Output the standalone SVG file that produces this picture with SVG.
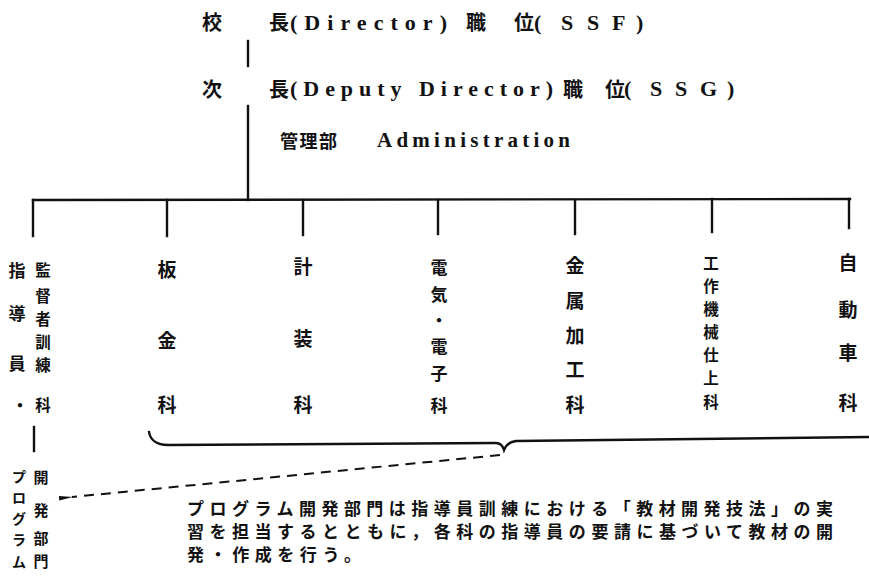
<svg xmlns="http://www.w3.org/2000/svg" width="869" height="577" viewBox="0 0 869 577">
<defs>
<style>
.cj{font-family:"Noto Sans CJK JP","Noto Sans CJK SC",sans-serif;font-weight:bold;fill:#111}
.lt{font-family:"Liberation Serif","DejaVu Serif",serif;font-weight:bold;fill:#111}
.col{font-size:19px;text-anchor:middle}
.sm{font-size:17px}
.xs{font-size:15.5px}
.ln{stroke:#111;stroke-width:2.4;fill:none;stroke-linecap:square}
.dash{stroke:#111;stroke-width:2;fill:none;stroke-dasharray:10 7}
</style>
<marker id="arr" viewBox="0 0 14 6" refX="1" refY="3" markerWidth="14" markerHeight="6" markerUnits="userSpaceOnUse" orient="auto">
<path d="M0,3 L14,0.8 L14,5.2 z" fill="#111"/>
</marker>
</defs>
<rect width="869" height="577" fill="#fff"/>

<g id="director">
<text class="cj" x="202" y="30" font-size="20">校</text>
<text class="cj" x="269" y="30" font-size="20">長</text>
<text class="lt" x="290" y="30" font-size="22" textLength="157" lengthAdjust="spacing">(Director)</text>
<text class="cj" x="466" y="30" font-size="20">職</text>
<text class="cj" x="514" y="30" font-size="20">位</text>
<text class="lt" font-size="22" y="30" x="534 561 587 612 636">(SSF)</text>
</g>

<g id="deputy">
<text class="cj" x="202" y="97" font-size="20">次</text>
<text class="cj" x="269" y="97" font-size="20">長</text>
<text class="lt" x="290" y="96" font-size="22" textLength="263" lengthAdjust="spacing">(Deputy Director)</text>
<text class="cj" x="563" y="97" font-size="20">職</text>
<text class="cj" x="605" y="97" font-size="20">位</text>
<text class="lt" font-size="22" y="96" x="624 650 675 700 727">(SSG)</text>
</g>

<g id="admin">
<text class="cj" x="280" y="148" font-size="18" textLength="57" lengthAdjust="spacing">管理部</text>
<text class="lt" x="377" y="147" font-size="21" textLength="193" lengthAdjust="spacing">Administration</text>
</g>

<g id="connectors">
<line class="ln" x1="248" y1="41" x2="248" y2="66"/>
<line class="ln" x1="248" y1="106" x2="248" y2="200"/>
<line class="ln" x1="33" y1="200" x2="850" y2="199"/>
<line class="ln" x1="33" y1="200" x2="33" y2="236"/>
<line class="ln" x1="167" y1="200" x2="167" y2="236"/>
<line class="ln" x1="303" y1="200" x2="303" y2="235"/>
<line class="ln" x1="438" y1="200" x2="438" y2="234"/>
<line class="ln" x1="575" y1="200" x2="575" y2="234"/>
<line class="ln" x1="712" y1="199" x2="712" y2="232"/>
<line class="ln" x1="849" y1="199" x2="849" y2="228"/>
<line class="ln" x1="34" y1="427" x2="34" y2="451"/>
<path class="ln" d="M149,432 Q151,445 168,445 L496,443 Q502,443 504,450 Q507,442 516,441 L869,437"/>
<path class="dash" d="M500,455 L72,497" marker-end="url(#arr)"/>
</g>

<g id="supervisor">
<text class="cj col sm"><tspan x="17" y="277">指</tspan><tspan x="17" y="320">導</tspan><tspan x="17" y="370">員</tspan><tspan x="20" y="412">・</tspan></text>
<text class="cj col xs"><tspan x="43" y="276">監</tspan><tspan x="43" y="302">督</tspan><tspan x="43" y="325">者</tspan><tspan x="43" y="348">訓</tspan><tspan x="43" y="371">練</tspan><tspan x="43" y="411">科</tspan></text>
</g>

<g id="sheetmetal">
<text class="cj col"><tspan x="167" y="277">板</tspan><tspan x="167" y="348">金</tspan><tspan x="167" y="412">科</tspan></text>
</g>

<g id="instrument">
<text class="cj col"><tspan x="303" y="274">計</tspan><tspan x="303" y="346">装</tspan><tspan x="303" y="412">科</tspan></text>
</g>

<g id="electric">
<text class="cj col sm"><tspan x="439" y="274">電</tspan><tspan x="439" y="301">気</tspan><tspan x="439" y="327">・</tspan><tspan x="439" y="353">電</tspan><tspan x="439" y="380">子</tspan><tspan x="439" y="412">科</tspan></text>
</g>

<g id="metal">
<text class="cj col"><tspan x="575" y="273">金</tspan><tspan x="575" y="308">属</tspan><tspan x="575" y="343">加</tspan><tspan x="575" y="377">工</tspan><tspan x="575" y="412">科</tspan></text>
</g>

<g id="machine">
<text class="cj col xs"><tspan x="711" y="269">工</tspan><tspan x="711" y="292">作</tspan><tspan x="711" y="315">機</tspan><tspan x="711" y="338">械</tspan><tspan x="711" y="361">仕</tspan><tspan x="711" y="384">上</tspan><tspan x="711" y="408">科</tspan></text>
</g>

<g id="auto">
<text class="cj col"><tspan x="848" y="270">自</tspan><tspan x="848" y="317">動</tspan><tspan x="848" y="360">車</tspan><tspan x="848" y="410">科</tspan></text>
</g>

<g id="program">
<text class="cj col" style="font-size:14px"><tspan x="19" y="482">プ</tspan><tspan x="19" y="503">ロ</tspan><tspan x="19" y="524">グ</tspan><tspan x="19" y="545">ラ</tspan><tspan x="19" y="567">ム</tspan></text>
<text class="cj col" style="font-size:15px"><tspan x="41" y="483">開</tspan><tspan x="41" y="516">発</tspan><tspan x="41" y="544">部</tspan><tspan x="41" y="567">門</tspan></text>
</g>

<g id="note">
<text class="cj" x="187" y="515" font-size="17" textLength="646" lengthAdjust="spacing">プログラム開発部門は指導員訓練における「教材開発技法」の実</text>
<text class="cj" x="187" y="538" font-size="17" textLength="646" lengthAdjust="spacing">習を担当するとともに，各科の指導員の要請に基づいて教材の開</text>
<text class="cj" x="187" y="561" font-size="17" textLength="174" lengthAdjust="spacing">発・作成を行う。</text>
</g>
</svg>
